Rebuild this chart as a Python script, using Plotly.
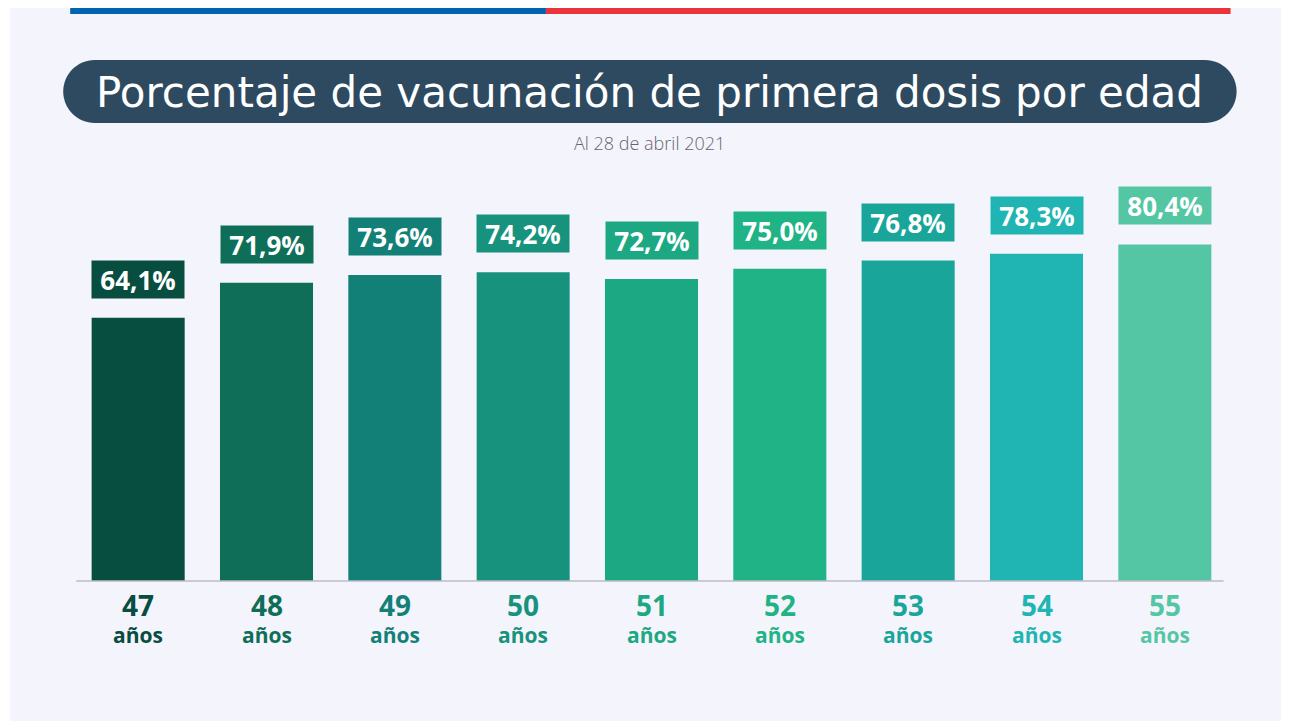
import plotly.graph_objects as go

# ---- data ----
ages = ["47", "48", "49", "50", "51", "52", "53", "54", "55"]
values = [64.1, 71.9, 73.6, 74.2, 72.7, 75.0, 76.8, 78.3, 80.4]
value_labels = ["64,1%", "71,9%", "73,6%", "74,2%", "72,7%", "75,0%", "76,8%", "78,3%", "80,4%"]
colors = ["#074D40", "#0F6E58", "#138077", "#17937D", "#1CA882",
          "#1FB385", "#1AA59B", "#20B5B2", "#55C6A3"]
title = "Porcentaje de vacunación de primera dosis por edad"
subtitle = "Al 28 de abril 2021"
unit_word = "años"

OFF = 8  # page body margin
W, H = 1289, 721
# plot area in page coordinates
PL, PR = 73.8, 1229.4
PBOT, PH = 581, 400
L = PL - OFF
R = W - (PR - OFF)
B = H - (PBOT - OFF)
T = H - B - PH
PW = PR - PL
Y0 = 5.6          # value at the baseline
YSCALE = 4.5      # pixels per percentage point
YMAX = Y0 + PH / YSCALE
BG = "#F4F4FC"


def px(x):  # page x -> paper
    return (x - PL) / PW


def py(y):  # page y -> paper
    return (PBOT - y) / PH


fig = go.Figure()
fig.add_trace(go.Bar(
    x=list(range(len(ages))), y=values, width=0.725,
    marker=dict(color=colors, line=dict(width=0)),
    hoverinfo="skip",
))

shapes = []
# top stripe
shapes.append(dict(type="rect", xref="paper", yref="paper", x0=px(70), x1=px(546),
                   y0=py(14), y1=py(OFF), fillcolor="#0063B0", line=dict(width=0), layer="above"))
shapes.append(dict(type="rect", xref="paper", yref="paper", x0=px(546), x1=px(1231),
                   y0=py(14), y1=py(OFF), fillcolor="#E8343A", line=dict(width=0), layer="above"))
# white left strip
shapes.append(dict(type="rect", xref="paper", yref="paper", x0=px(OFF), x1=px(10),
                   y0=py(H + OFF), y1=py(OFF), fillcolor="#FFFFFF", line=dict(width=0), layer="below"))

# title pill (rounded ends via cubic beziers)
x0p, x1p, y0p, y1p = 63, 1237, 60, 123
r = (y1p - y0p) / 2
k = 0.5523 * r
cy = (y0p + y1p) / 2


def P(x, y):
    return f"{px(x):.6f},{py(y):.6f}"


path = (f"M {P(x0p + r, y0p)} L {P(x1p - r, y0p)} "
        f"C {P(x1p - r + k, y0p)} {P(x1p, cy - k)} {P(x1p, cy)} "
        f"C {P(x1p, cy + k)} {P(x1p - r + k, y1p)} {P(x1p - r, y1p)} "
        f"L {P(x0p + r, y1p)} "
        f"C {P(x0p + r - k, y1p)} {P(x0p, cy + k)} {P(x0p, cy)} "
        f"C {P(x0p, cy - k)} {P(x0p + r - k, y0p)} {P(x0p + r, y0p)} Z")
shapes.append(dict(type="path", xref="paper", yref="paper", path=path,
                   fillcolor="#2E4A60", line=dict(width=0), layer="above"))

# baseline
shapes.append(dict(type="line", xref="paper", yref="paper", x0=px(76), x1=px(1224), y0=0, y1=0,
                   line=dict(color="#BDBDC4", width=1.5), layer="above"))

annotations = []
annotations.append(dict(text=title, xref="paper", yref="paper", x=px(650), y=py(92),
                        showarrow=False, xanchor="center", yanchor="middle",
                        font=dict(family="DejaVu Sans", size=42, color="#FFFFFF")))
annotations.append(dict(text=subtitle, xref="paper", yref="paper", x=px(650), y=py(143),
                        showarrow=False, xanchor="center", yanchor="middle",
                        font=dict(family="Open Sans", size=18, weight=300, color="#66666E")))

for i, (a, v, lab, c) in enumerate(zip(ages, values, value_labels, colors)):
    annotations.append(dict(text=f"<b>{lab}</b>", x=i, y=v, xref="x", yref="y",
                            showarrow=False, xanchor="center", yanchor="bottom", yshift=19,
                            width=92, height=37, borderpad=0, bgcolor=c,
                            font=dict(family="Open Sans", size=26, color="#FFFFFF")))
    annotations.append(dict(
        text=f"<span style='font-size:28px'><b>{a}</b></span><br><b>{unit_word}</b>",
        x=i, y=0, xref="x", yref="paper",
        showarrow=False, xanchor="center", yanchor="top", yshift=-3,
        font=dict(family="Open Sans", size=21, color=c)))

fig.update_layout(
    width=W, height=H,
    margin=dict(l=L, r=R, t=T, b=B, pad=0),
    paper_bgcolor=BG, plot_bgcolor=BG,
    showlegend=False,
    xaxis=dict(visible=False, range=[-0.5, 8.5], fixedrange=True),
    yaxis=dict(visible=False, range=[Y0, YMAX], fixedrange=True),
    shapes=shapes,
    annotations=annotations,
)

fig.write_html("out.html", config=dict(displayModeBar=False))
